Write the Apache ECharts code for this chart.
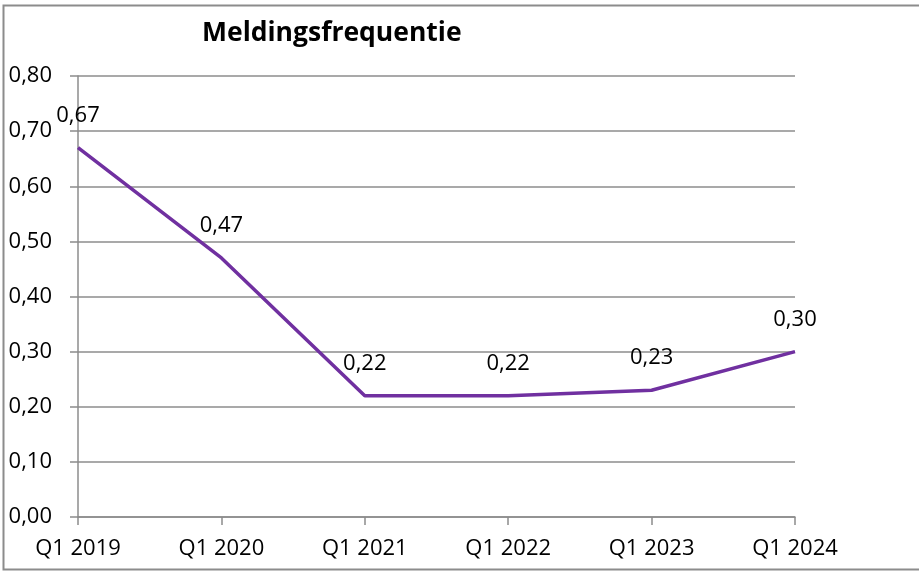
<!DOCTYPE html>
<html>
<head>
<meta charset="utf-8">
<script src="https://cdn.jsdelivr.net/npm/echarts@6/dist/echarts.min.js"></script>
<style>
  html, body { margin: 0; padding: 0; background: #fff; }
  #chart { width: 919px; height: 571px; }
</style>
</head>
<body>
<div id="chart"></div>
<script>
// Quarterly reporting frequency
const categories = ['Q1 2019', 'Q1 2020', 'Q1 2021', 'Q1 2022', 'Q1 2023', 'Q1 2024'];
const values = [0.67, 0.47, 0.22, 0.22, 0.23, 0.30];
const yTicks = { min: 0, max: 0.8, interval: 0.1 };

const fmt = v => v.toFixed(2).replace('.', ',');
const font = 'Open Sans, Noto Sans, sans-serif';

const chart = echarts.init(document.getElementById('chart'));
chart.setOption({
  animation: false,
  backgroundColor: '#fff',
  title: {
    text: 'Meldingsfrequentie',
    left: 197,
    top: 15,
    textStyle: { fontFamily: font, fontWeight: 'bold', fontSize: 26.5, color: '#000' }
  },
  graphic: [{
    type: 'rect',
    shape: { x: 3.5, y: 5.5, width: 930, height: 564 },
    style: { fill: 'none', stroke: '#8c8c8c', lineWidth: 2 },
    silent: true
  }],
  grid: { left: 78, right: 124, top: 76, bottom: 54, containLabel: false },
  xAxis: {
    type: 'category',
    data: categories,
    boundaryGap: false,
    axisLine: { lineStyle: { color: '#8c8c8c', width: 1.5 } },
    axisTick: { show: true, length: 8, lineStyle: { color: '#8c8c8c', width: 1.5 } },
    axisLabel: { color: '#000', fontFamily: font, fontSize: 22, margin: 21 },
    splitLine: { show: false }
  },
  yAxis: {
    type: 'value',
    min: yTicks.min,
    max: yTicks.max,
    interval: yTicks.interval,
    axisLine: { show: true, lineStyle: { color: '#8c8c8c', width: 1.5 } },
    axisTick: { show: true, length: 8, lineStyle: { color: '#8c8c8c', width: 1.5 } },
    axisLabel: { color: '#000', fontFamily: font, fontSize: 22, margin: 26, formatter: v => fmt(v) },
    splitLine: { show: true, lineStyle: { color: '#8c8c8c', width: 1.5 } }
  },
  series: [{
    type: 'line',
    data: values,
    showSymbol: true,
    showAllSymbol: true,
    symbol: 'circle',
    symbolSize: 2,
    lineStyle: { color: '#7030A0', width: 3.5 },
    itemStyle: { color: 'rgba(0,0,0,0)', borderWidth: 0 },
    label: {
      show: true,
      position: 'top',
      distance: 20,
      color: '#000',
      fontFamily: font,
      fontSize: 22,
      formatter: p => fmt(p.value)
    },
    labelLayout: { hideOverlap: false }
  }]
});
</script>
</body>
</html>
